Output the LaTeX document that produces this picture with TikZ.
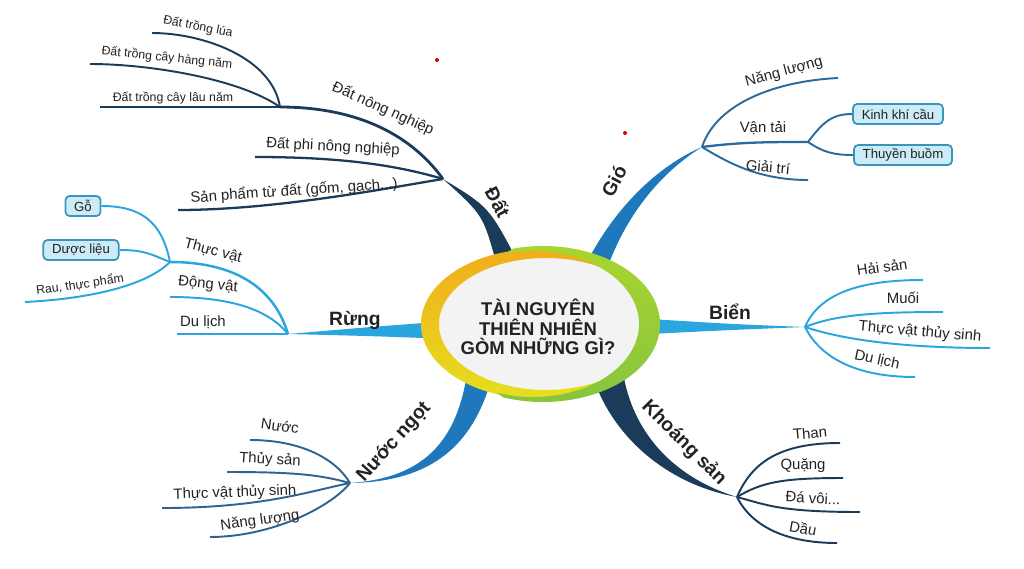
\documentclass[tikz,border=0pt]{standalone}
\usepackage{fontspec}
\setmainfont{Liberation Sans}
\usetikzlibrary{calc}

\definecolor{navy}{HTML}{1B3B5A}
\definecolor{midblue}{HTML}{1F78BC}
\definecolor{skyblue}{HTML}{2AA5DE}
\definecolor{windblue}{HTML}{2A6A9C}
\definecolor{fwblue}{HTML}{2F6390}
\definecolor{boxfill}{HTML}{CDEAF7}
\definecolor{boxline}{HTML}{3A95BD}
\definecolor{ringgreen}{HTML}{86C440}
\definecolor{ringyellow}{HTML}{E6E01E}
\definecolor{ringorange}{HTML}{F2A91C}
\definecolor{core}{HTML}{F3F3F3}
\definecolor{txt}{HTML}{222222}

\begin{document}
\begin{tikzpicture}[x=0.02cm,y=-0.02cm,
  leaf/.style={font=\fontsize{8.5}{9}\selectfont,text=txt,inner sep=0pt},
  twig/.style={font=\fontsize{7}{8}\selectfont,text=txt,inner sep=0pt},
  mainlbl/.style={font=\fontsize{11}{12}\selectfont\bfseries,text=txt,inner sep=0pt},
  pill/.style={draw=boxline,fill=boxfill,rounded corners=2.5pt,line width=1pt,
    font=\fontsize{7.5}{8}\selectfont,text=txt,inner xsep=5pt,inner ysep=0pt,minimum height=11.5pt},
  twigline/.style={line width=1.1pt}]
\useasboundingbox (0,0) rectangle (1024,568);

% hubs
\coordinate (hD) at (443,179);
\coordinate (hG) at (702,147);
\coordinate (hR) at (288,334);
\coordinate (hB) at (805,327);
\coordinate (hN) at (350,483);
\coordinate (hK) at (737,497);

% main branches
\fill[navy] (496,262) .. controls (483,215) .. (hD) .. controls (489,207) .. (518,262) -- cycle;
\fill[midblue] (586,264) .. controls (616,205) and (660,165) .. (hG) .. controls (662,172) and (628,212) .. (608,266) -- cycle;
\fill[skyblue] (450,321) .. controls (370,327) .. (hR) .. controls (370,336) .. (450,339) -- cycle;
\fill[skyblue] (650,319) .. controls (730,324) .. (hB) .. controls (730,330) .. (650,334) -- cycle;
\fill[midblue] (466,380) .. controls (455,440) and (425,478) .. (hN) .. controls (435,482) and (472,442) .. (490,384) -- cycle;
\fill[navy] (594,380) .. controls (615,440) and (670,485) .. (hK) .. controls (675,478) and (635,435) .. (624,378) -- cycle;

% centre
\coordinate (c) at (541,324);
\fill[core] (c) ellipse[x radius=110,y radius=72];
\shade[top color=ringorange,bottom color=ringyellow] (538,324) ++(300:117 and 75)
  arc[start angle=300,end angle=60,x radius=117,y radius=75]
  -- ($(546,324)+(60:107 and 66)$)
  arc[start angle=60,end angle=300,x radius=107,y radius=66] -- cycle;
\shade[top color=ringgreen!70!yellow,bottom color=ringgreen] (543,324) ++(255:117 and 78)
  arc[start angle=255,end angle=470,x radius=117,y radius=78]
  -- ($(533,324)+(470:106 and 73)$)
  arc[start angle=470,end angle=255,x radius=106,y radius=73] -- cycle;
\node[font=\fontsize{10.5}{11.2}\selectfont\bfseries,text=txt,align=center] (title) at (538,327)
  {TÀI NGUYÊN\\THIÊN NHIÊN\\GÒM NHỮNG GÌ?};

% main labels
\node[mainlbl,rotate=-62] (lD) at (498,202) {Đất};
\node[mainlbl,rotate=62] (lG) at (614,181) {Gió};
\node[mainlbl] (lR) at (355,320) {Rừng};
\node[mainlbl] (lB) at (730,312) {Biển};
\node[mainlbl,rotate=48] (lN) at (394,442) {Nước ngọt};
\node[mainlbl,rotate=-45] (lK) at (684,443) {Khoáng sản};

% Dat
\coordinate (sDn) at (280,107);
\coordinate (eD1) at (152,33);
\coordinate (eD2) at (90,64);
\coordinate (eD3) at (100,107);
\coordinate (eD4) at (255,157);
\coordinate (eD5) at (178,210);
\draw[navy,line width=1.6pt] (hD) .. controls +(-40,-55) and +(60,0) .. (sDn);
\draw[navy,twigline] (sDn) .. controls +(-8,-50) and +(50,0) .. (eD1);
\draw[navy,twigline] (sDn) .. controls +(-40,-28) and +(60,0) .. (eD2);
\draw[navy,twigline] (sDn) -- (eD3);
\draw[navy,line width=1.3pt] (hD) .. controls +(-50,-15) and +(80,0) .. (eD4);
\draw[navy,line width=1.3pt] (hD) .. controls +(-50,8) and +(100,0) .. (eD5);
\node[leaf,rotate=-24] (tDn) at (383,109) {Đất nông nghiệp};
\node[twig,rotate=-11] (tD1) at (198,27) {Đất trồng lúa};
\node[twig,rotate=-6] (tD2) at (167,58) {Đất trồng cây hàng năm};
\node[twig] (tD3) at (173,98) {Đất trồng cây lâu năm};
\node[leaf,rotate=-3] (tD4) at (333,147) {Đất phi nông nghiệp};
\node[leaf,rotate=4] (tD5) at (294,191) {Sản phẩm từ đất (gốm, gạch...)};

% Gio
\coordinate (eG1) at (838,78);
\coordinate (sV) at (808,142);
\coordinate (eG3) at (808,180);
\draw[windblue,twigline] (hG) .. controls +(15,-45) and +(-60,3) .. (eG1);
\draw[windblue,line width=1.3pt] (hG) .. controls +(40,-5) and +(-40,0) .. (sV);
\draw[windblue,twigline] (hG) .. controls +(25,15) and +(-50,0) .. (eG3);
\node[pill] (bK) at (898,114) {Kinh khí cầu};
\node[pill] (bT) at (903,155) {Thuyền buồm};
\draw[windblue,twigline] (sV) .. controls +(15,-20) and +(-20,0) .. (bK.west);
\draw[windblue,twigline] (sV) .. controls +(15,10) and +(-20,0) .. (bT.west);
\node[leaf,rotate=15] (tG1) at (784,72) {Năng lượng};
\node[leaf] (tG2) at (763,128) {Vận tải};
\node[leaf,rotate=-5] (tG3) at (768,167) {Giải trí};

% Rung
\coordinate (sT) at (170,262);
\coordinate (eR2) at (170,297);
\coordinate (eR3) at (177,334);
\coordinate (eR4) at (25,302);
\draw[skyblue,line width=1.4pt] (hR) .. controls +(-15,-50) and +(60,0) .. (sT);
\draw[skyblue,twigline] (hR) .. controls +(-20,-25) and +(60,0) .. (eR2);
\draw[skyblue,twigline] (hR) -- (eR3);
\node[pill] (bG) at (83,206) {Gỗ};
\node[pill] (bDl) at (81,250) {Dược liệu};
\draw[skyblue,twigline] (sT) .. controls +(-8,-40) and +(40,0) .. (bG.east);
\draw[skyblue,twigline] (sT) .. controls +(-20,-8) and +(25,0) .. (bDl.east);
\draw[skyblue,twigline] (sT) .. controls +(-25,25) and +(60,-3) .. (eR4);
\node[leaf,rotate=-15] (tR1) at (213,251) {Thực vật};
\node[leaf,rotate=-6] (tR2) at (208,285) {Động vật};
\node[leaf] (tR3) at (203,322) {Du lịch};
\node[twig,rotate=8] (tR4) at (80,285) {Rau, thực phẩm};

% Bien
\coordinate (eB1) at (923,280);
\coordinate (eB2) at (943,312);
\coordinate (eB3) at (990,348);
\coordinate (eB4) at (915,377);
\draw[skyblue,twigline] (hB) .. controls +(15,-35) and +(-60,0) .. (eB1);
\draw[skyblue,twigline] (hB) .. controls +(30,-12) and +(-70,0) .. (eB2);
\draw[skyblue,twigline] (hB) .. controls +(30,10) and +(-100,0) .. (eB3);
\draw[skyblue,twigline] (hB) .. controls +(15,30) and +(-60,0) .. (eB4);
\node[leaf,rotate=8] (tB1) at (882,267) {Hải sản};
\node[leaf] (tB2) at (903,298) {Muối};
\node[leaf,rotate=-5] (tB3) at (920,332) {Thực vật thủy sinh};
\node[leaf,rotate=-12] (tB4) at (877,360) {Du lịch};

% Nuoc ngot
\coordinate (eN1) at (250,440);
\coordinate (eN2) at (227,472);
\coordinate (eN3) at (162,508);
\coordinate (eN4) at (210,537);
\draw[fwblue,twigline] (hN) .. controls +(-15,-25) and +(50,0) .. (eN1);
\draw[fwblue,twigline] (hN) .. controls +(-30,-8) and +(70,0) .. (eN2);
\draw[fwblue,twigline] (hN) .. controls +(-40,8) and +(100,0) .. (eN3);
\draw[fwblue,twigline] (hN) .. controls +(-20,25) and +(60,0) .. (eN4);
\node[leaf,rotate=-8] (tN1) at (280,426) {Nước};
\node[leaf,rotate=-3] (tN2) at (270,460) {Thủy sản};
\node[leaf,rotate=2] (tN3) at (235,493) {Thực vật thủy sinh};
\node[leaf,rotate=8] (tN4) at (260,521) {Năng lượng};

% Khoang san
\coordinate (eK1) at (840,443);
\coordinate (eK2) at (843,478);
\coordinate (eK3) at (860,512);
\coordinate (eK4) at (837,543);
\draw[navy,twigline] (hK) .. controls +(15,-35) and +(-60,0) .. (eK1);
\draw[navy,twigline] (hK) .. controls +(25,-15) and +(-60,0) .. (eK2);
\draw[navy,twigline] (hK) .. controls +(30,8) and +(-80,0) .. (eK3);
\draw[navy,twigline] (hK) .. controls +(15,30) and +(-50,0) .. (eK4);
\node[leaf,rotate=5] (tK1) at (810,433) {Than};
\node[leaf] (tK2) at (803,466) {Quặng};
\node[leaf,rotate=-3] (tK3) at (813,498) {Đá vôi...};
\node[leaf,rotate=-10] (tK4) at (803,528) {Dầu};

% red dots
\fill[red!85!black] (437,60) circle[radius=2];
\fill[red!85!black] (625,133) circle[radius=2];
\end{tikzpicture}
\end{document}
